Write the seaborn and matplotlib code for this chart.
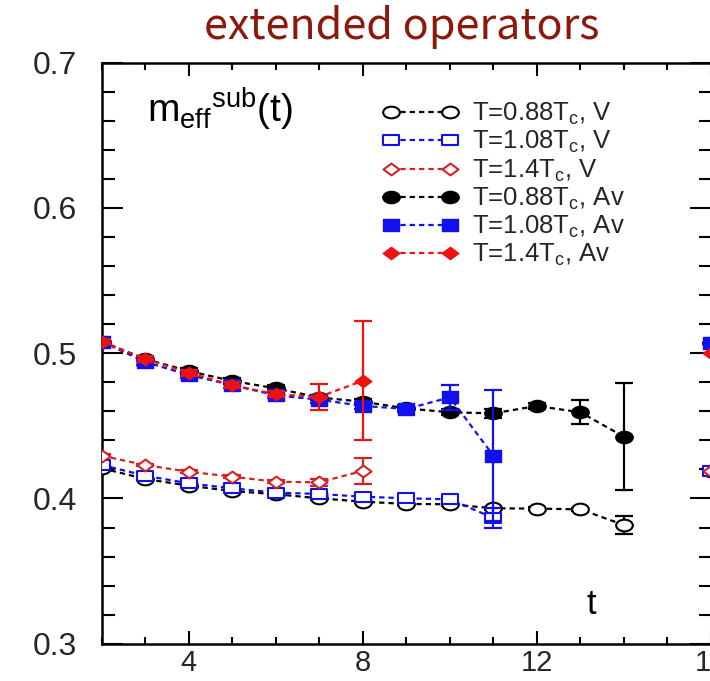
import numpy as np
import pandas as pd
import matplotlib
matplotlib.use("Agg")
import matplotlib.pyplot as plt
import seaborn as sns
from matplotlib.path import Path
from matplotlib.transforms import Affine2D
from matplotlib.ticker import MultipleLocator

# ---------------- data ----------------
t_av088 = [2, 3, 4, 5, 6, 7, 8, 9, 10, 11, 12, 13, 14]
av088 = [0.508, 0.496, 0.4877, 0.4809, 0.4758, 0.4695, 0.4666, 0.4620, 0.4593, 0.4586, 0.4637, 0.4593, 0.4425]
av088_err = [0.002, 0.002, 0.002, 0.002, 0.002, 0.002, 0.002, 0.002, 0.002, 0.003, 0.002, 0.0083, 0.037]

t_av108 = [2, 3, 4, 5, 6, 7, 8, 9, 10, 11]
av108 = [0.508, 0.494, 0.485, 0.478, 0.471, 0.468, 0.4637, 0.4616, 0.4696, 0.4294]
av108_err = [0.002, 0.002, 0.002, 0.002, 0.002, 0.002, 0.002, 0.002, 0.0085, 0.045]

t_av14 = [2, 3, 4, 5, 6, 7, 8]
av14 = [0.508, 0.496, 0.4865, 0.478, 0.4717, 0.470, 0.481]
av14_err = [0.002, 0.002, 0.002, 0.002, 0.002, 0.009, 0.041]

t_v088 = [2, 3, 4, 5, 6, 7, 8, 9, 10, 11, 12, 13, 14]
v088 = [0.4208, 0.4134, 0.4088, 0.4051, 0.4029, 0.4001, 0.3978, 0.3962, 0.3960, 0.3932, 0.3930, 0.3925, 0.3817]
v088_err = [0.001, 0.001, 0.001, 0.001, 0.001, 0.001, 0.001, 0.001, 0.001, 0.001, 0.001, 0.001, 0.006]

t_v108 = [2, 3, 4, 5, 6, 7, 8, 9, 10, 11]
v108 = [0.4230, 0.4157, 0.4104, 0.4070, 0.4040, 0.4031, 0.4012, 0.4001, 0.3994, 0.3866]
v108_err = [0.001, 0.001, 0.001, 0.001, 0.001, 0.001, 0.001, 0.001, 0.001, 0.007]

t_v14 = [2, 3, 4, 5, 6, 7, 8]
v14 = [0.4294, 0.4230, 0.4184, 0.4150, 0.4115, 0.4111, 0.4190]
v14_err = [0.001, 0.001, 0.001, 0.001, 0.001, 0.0025, 0.009]

# isolated points at the right edge (t = 16)
t_edge = [16]
edge_av088 = [0.507]
edge_av108 = [0.507]
edge_av14 = [0.500]
edge_v088 = [0.419]
edge_v108 = [0.419]
edge_v14 = [0.419]

labels = [r"T=0.88T$_\mathregular{c}$, V", r"T=1.08T$_\mathregular{c}$, V", r"T=1.4T$_\mathregular{c}$, V",
          r"T=0.88T$_\mathregular{c}$, Av", r"T=1.08T$_\mathregular{c}$, Av", r"T=1.4T$_\mathregular{c}$, Av"]

x_ticks = [4, 8, 12, 16]
y_ticks = [0.3, 0.4, 0.5, 0.6, 0.7]
title_text = "extended operators"

# ---------------- style ----------------
sns.set_theme(style="ticks")
plt.rcParams["font.family"] = ["Liberation Sans", "DejaVu Sans"]
plt.rcParams["mathtext.fontset"] = "custom"
plt.rcParams["mathtext.rm"] = "Liberation Sans"
plt.rcParams["mathtext.it"] = "Liberation Sans"
plt.rcParams["mathtext.bf"] = "Liberation Sans:bold"

BLACK = "#000000"
BLUE = "#1010f0"
RED = "#ee1111"
RED_OPEN = "#d42222"

sx, sy = 1.0, 0.70
circ_m = Path.unit_circle().transformed(Affine2D().scale(sx, sy))
sq_m = Path([(-1, -1), (1, -1), (1, 1), (-1, 1), (-1, -1)],
            [Path.MOVETO, Path.LINETO, Path.LINETO, Path.LINETO, Path.CLOSEPOLY]).transformed(Affine2D().scale(sx, sy))
dia_m = Path([(0, -1), (1, 0), (0, 1), (-1, 0), (0, -1)],
             [Path.MOVETO, Path.LINETO, Path.LINETO, Path.LINETO, Path.CLOSEPOLY]).transformed(Affine2D().scale(sx, 0.74))

fig = plt.figure(figsize=(7.10, 6.81), dpi=100)
fig.patch.set_facecolor("white")
L, B = 101.7 / 710, 37.3 / 681
ax = fig.add_axes([L, B, (711.0 - 101.7) / 710, (643.7 - 62.7) / 681])
ax.set_facecolor("white")

dash = (0, (2.4, 1.8))

series = [
    # t, y, err, color, marker, ms, filled, label, edge
    (t_v088, v088, v088_err, BLACK, circ_m, 12.0, False, labels[0], edge_v088),
    (t_v108, v108, v108_err, BLUE, sq_m, 11.0, False, labels[1], edge_v108),
    (t_v14, v14, v14_err, RED_OPEN, dia_m, 11.5, False, labels[2], edge_v14),
    (t_av088, av088, av088_err, BLACK, circ_m, 12.5, True, labels[3], edge_av088),
    (t_av108, av108, av108_err, BLUE, sq_m, 11.5, True, labels[4], edge_av108),
    (t_av14, av14, av14_err, RED, dia_m, 12.0, True, labels[5], edge_av14),
]

for i, (tt, yy, ee, col, mk, ms, filled, lab, edge) in enumerate(series):
    z = 3 + i
    ax.errorbar(tt, yy, yerr=ee, fmt="none", ecolor=col, elinewidth=1.6,
                capsize=6.5, capthick=1.6, zorder=z)
    df = pd.DataFrame({"t": tt, "m": yy})
    sns.lineplot(data=df, x="t", y="m", ax=ax, color=col, linestyle=dash, linewidth=1.6,
                 marker=mk, markersize=ms, markerfacecolor=(col if filled else "white"),
                 markeredgecolor=col, markeredgewidth=1.5 if not filled else 1.0,
                 label=lab, errorbar=None, zorder=z + 0.5)
    ax.plot(t_edge, edge, linestyle="none", marker=mk, markersize=ms,
            markerfacecolor=(col if filled else "white"), markeredgecolor=col,
            markeredgewidth=1.5 if not filled else 1.0, zorder=z + 0.5, clip_on=True)

# ---------------- axes ----------------
ax.set_xlim(2, 16)
ax.set_ylim(0.3, 0.7)
ax.set_xticks(x_ticks)
ax.set_yticks(y_ticks)
ax.set_xticklabels([str(v) for v in x_ticks])
ax.set_yticklabels([f"{v:.1f}" for v in y_ticks])
ax.xaxis.set_minor_locator(MultipleLocator(1))
ax.yaxis.set_minor_locator(MultipleLocator(0.02))
ax.tick_params(axis="both", which="both", direction="in", top=True, right=True,
               color="black", width=1.5)
ax.tick_params(axis="x", which="major", length=9.5, labelsize=21, pad=4)
ax.tick_params(axis="x", which="minor", length=5)
ax.tick_params(axis="y", which="major", length=15, labelsize=23, pad=18)
ax.tick_params(axis="y", which="minor", length=9)
for s in ax.spines.values():
    s.set_visible(True)
    s.set_linewidth(1.8)
    s.set_color("black")
ax.set_xlabel("")
ax.set_ylabel("")
ax.grid(False)

# in-plot labels
fig.text(147 / 710, 1 - 123 / 681, r"$\mathregular{m_{eff}{}^{sub}(t)}$", fontsize=28,
         ha="left", va="baseline", color="black")
fig.text(591 / 710, 1 - 604 / 681, "t", fontsize=25, ha="center", va="center", color="black")

# title
fig.text(402 / 710, 1 - 27 / 681, title_text, fontsize=31, color="#8c1a0c",
         family=["Noto Sans CJK JP", "DejaVu Sans"], ha="center", va="center")

# legend
handles, labs = ax.get_legend_handles_labels()
leg = ax.legend(handles, labs, loc="upper left", bbox_to_anchor=(383 / 710, 1 - 101 / 681),
                bbox_transform=fig.transFigure, frameon=False, fontsize=18.5, numpoints=2,
                handlelength=2.9, handletextpad=0.55, labelspacing=0.08, borderpad=0,
                borderaxespad=0)

fig.savefig("out.png", dpi=100, facecolor="white")
